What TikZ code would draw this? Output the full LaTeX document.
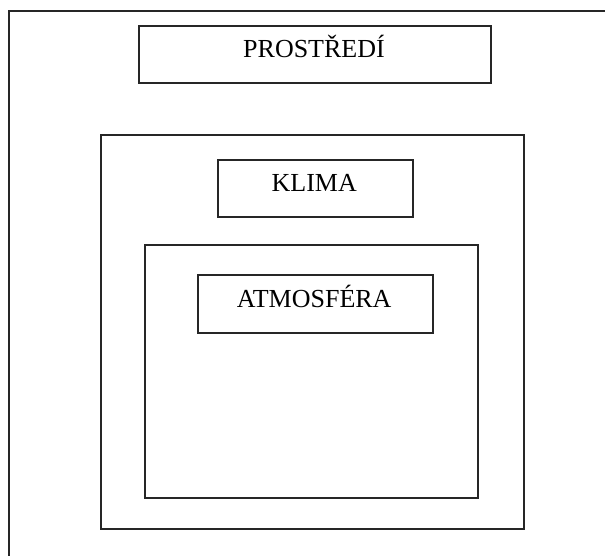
\documentclass[tikz,border=0pt]{standalone}
\usepackage{fontspec}
\setmainfont{Liberation Serif}
\begin{document}
\begin{tikzpicture}[x=1pt, y=-1pt,
  frame/.style={draw=black!85, line width=1.7pt},
  box/.style={frame, rectangle, inner sep=0pt, anchor=north west},
  label/.style={anchor=base, inner sep=0pt, font=\fontsize{26}{30}\selectfont}]
  \useasboundingbox (0,0) rectangle (605,556);
  % outer frame, running past the right and bottom edges
  \coordinate (topright) at (605,11);
  \coordinate (corner) at (9,11);
  \coordinate (bottomleft) at (9,556);
  \draw[frame] (topright) -- (corner) -- (bottomleft);
  % environment label
  \node[box, minimum width=352pt, minimum height=57pt] (prost) at (138,25) {};
  \node[label] (prostT) at (314,57.7) {PROSTŘEDÍ};
  % climate frame and label
  \node[box, minimum width=423pt, minimum height=394pt] (klimaframe) at (100,134) {};
  \node[box, minimum width=195pt, minimum height=57pt] (klima) at (217,159) {};
  \node[label] (klimaT) at (314.2,191.7) {KLIMA};
  % atmosphere frame and label
  \node[box, minimum width=333pt, minimum height=253pt] (atmframe) at (144,244) {};
  \node[box, minimum width=235pt, minimum height=58pt] (atm) at (197,274) {};
  \node[label] (atmT) at (314.2,307.7) {ATMOSFÉRA};
\end{tikzpicture}
\end{document}
